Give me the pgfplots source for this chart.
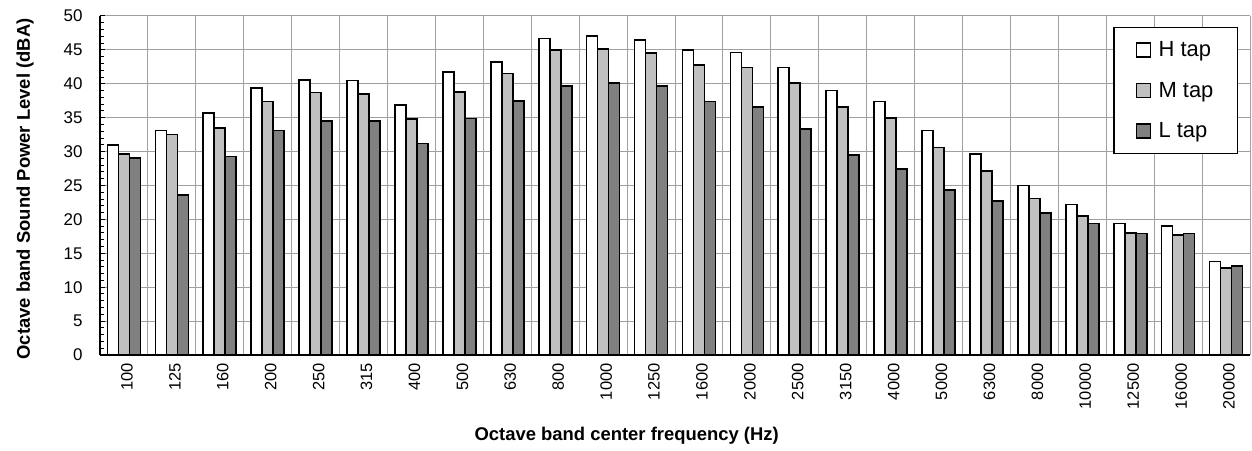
\documentclass[border=0pt]{standalone}
\usepackage{pgfplots}
\pgfplotsset{compat=1.18}
\usepackage{fontspec}
\setmainfont{Liberation Sans}
\definecolor{cM}{RGB}{192,192,192}
\definecolor{cL}{RGB}{128,128,128}
\definecolor{cG}{RGB}{160,160,160}
\begin{document}
\begin{tikzpicture}
\begin{axis}[
  scale only axis, width=1150bp, height=339bp,
  axis x line=bottom, axis y line=left,
  axis line style={-, black, line width=1.2pt},
  ymin=0, ymax=50, ytick={0,5,...,50}, minor ytick={0,1,...,50},
  xmin=-0.5, xmax=23.5,
  xtick={0,...,23},
  xticklabels={100,125,160,200,250,315,400,500,630,800,1000,1250,1600,2000,2500,3150,4000,5000,6300,8000,10000,12500,16000,20000},
  minor xtick={-0.5,0.5,...,23.5},
  xminorgrids=true, ymajorgrids=true,
  grid style={cG, line width=1pt},
  minor grid style={cG, line width=1pt},
  major tick length=5bp,
  minor tick length=4bp,
  tick align=inside,
  ytick style={black, line width=1pt},
  minor y tick style={black, line width=1pt},
  xtick style={draw=none},
  minor x tick style={black, line width=1pt},
  x tick label style={rotate=90, anchor=east, yshift=-3bp, font=\fontsize{16.5}{16.5}\selectfont},
  y tick label style={xshift=-14bp, font=\fontsize{17}{17}\selectfont},
  /pgf/number format/assume math mode=true,
  xlabel={\textbf{Octave band center frequency (Hz)}},
  ylabel={\textbf{Octave band Sound Power Level (dBA)}},
  label style={font=\fontsize{18.5}{18.5}\selectfont},
  xlabel style={at={(axis description cs:0.458,0)}, anchor=center, yshift=-81bp},
  ylabel style={at={(axis description cs:-0.0652,0.49)}, anchor=center},
  ybar=0pt, bar width=11bp,
  legend style={at={(1,1)}, anchor=north east, xshift=-12bp, yshift=-11bp,
    font=\fontsize{22}{22}\selectfont, draw=black, line width=1.2pt,
    row sep=20bp, inner xsep=22bp, inner ysep=12bp, cells={anchor=west}},
  legend image code/.code={\draw[#1, line width=1.4pt] (0bp,-7bp) rectangle (14bp,7bp);
    \path[draw=none, fill=none] (0bp,0bp) -- (20bp,0bp);},
]
\addplot[draw=black, line width=1.7pt, fill=white] coordinates {
(0,31.0)(1,33.1)(2,35.7)(3,39.4)(4,40.6)(5,40.5)(6,36.9)(7,41.7)(8,43.2)(9,46.7)(10,47.1)(11,46.5)(12,45.0)(13,44.6)(14,42.4)(15,39.0)(16,37.4)(17,33.1)(18,29.6)(19,25.0)(20,22.2)(21,19.4)(22,19.0)(23,13.8)};
\addplot[draw=black, line width=1.7pt, fill=cM] coordinates {
(0,29.6)(1,32.5)(2,33.5)(3,37.4)(4,38.7)(5,38.5)(6,34.8)(7,38.8)(8,41.5)(9,45.0)(10,45.1)(11,44.5)(12,42.8)(13,42.4)(14,40.1)(15,36.6)(16,35.0)(17,30.6)(18,27.1)(19,23.1)(20,20.5)(21,18.0)(22,17.7)(23,12.8)};
\addplot[draw=black, line width=1.7pt, fill=cL] coordinates {
(0,29.1)(1,23.6)(2,29.3)(3,33.1)(4,34.5)(5,34.5)(6,31.2)(7,34.9)(8,37.5)(9,39.7)(10,40.1)(11,39.7)(12,37.4)(13,36.6)(14,33.3)(15,29.5)(16,27.4)(17,24.3)(18,22.7)(19,20.9)(20,19.4)(21,17.9)(22,17.9)(23,13.1)};
\legend{H tap, M tap, L tap}
\end{axis}
\pgfresetboundingbox
\path ([shift={(-100bp,-95bp)}]current axis.south west) rectangle ([shift={(2bp,16bp)}]current axis.north east);
\end{tikzpicture}
\end{document}
